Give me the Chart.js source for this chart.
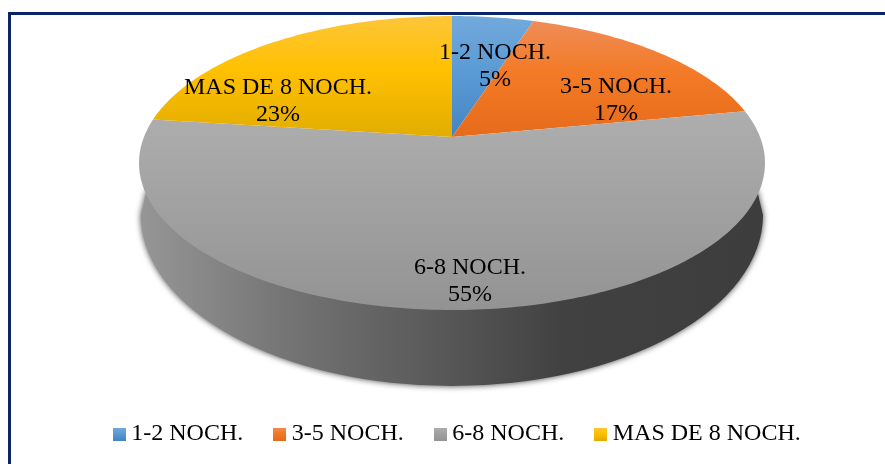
<!DOCTYPE html>
<html>
<head>
<meta charset="utf-8">
<style>
html,body{margin:0;padding:0;background:#fff;width:885px;height:464px;overflow:hidden}
#frame{position:absolute;left:8px;top:12px;right:-10px;bottom:-10px;border-left:3px solid #0a2566;border-top:3px solid #0a2566}
#wrap{position:absolute;left:0;top:0;width:885px;height:464px}
</style>
<script src="https://cdn.jsdelivr.net/npm/chart.js@4"></script>
</head>
<body>
<div id="frame"></div>
<div id="wrap"><canvas id="c" width="885" height="464"></canvas></div>
<script>
const categories = ['1-2 NOCH.', '3-5 NOCH.', '6-8 NOCH.', 'MAS DE 8 NOCH.'];
const values = [5, 17, 55, 23];
const faceStops = [
  ['#72a9dc', '#5b9bd5', '#4484c4'],
  ['#ef8d58', '#f37a26', '#e66b1b'],
  ['#aeaeae', '#a2a2a2', '#939393'],
  ['#fdc63a', '#ffc000', '#e2ad00']
];
const labelAnchors = [[495, 53], [616, 87], [470, 268], [278, 88]];

const TOP = {cx: 452, cy: 163, rx: 313, ry: 147};
const BASE = {cx: 452, cy: 215, rx: 311, ry: 171, startY: 190, inset: 6};
const TILT = 0.177;
const FONT = '"Liberation Serif","Times New Roman",serif';
const FONT_PX = 24;

function project(e, a) {
  const t = a + Math.PI / 2, x = Math.sin(t), y = Math.cos(t);
  const d = 1 + TILT * y;
  return [e.cx + e.rx * x * Math.sqrt(1 - TILT * TILT) / d, e.cy - e.ry * (y + TILT) / d];
}
function apex() { return [TOP.cx, TOP.cy - TOP.ry * TILT]; }
function samples(e, a0, a1) {
  const n = Math.max(2, Math.ceil((a1 - a0) * 60)), out = [];
  for (let i = 0; i <= n; i++) out.push(project(e, a0 + (a1 - a0) * i / n));
  return out;
}
function faceGradient(ctx, i, pts) {
  const ys = pts.map(p => p[1]);
  const g = ctx.createLinearGradient(0, Math.min(...ys), 0, Math.max(...ys));
  const s = faceStops[i];
  g.addColorStop(0, s[0]); g.addColorStop(0.45, s[1]); g.addColorStop(1, s[2]);
  return g;
}

Chart.ArcElement.prototype.draw = function (ctx) {
  const i = this.$context ? this.$context.index : 0;
  const pts = [apex(), ...samples(TOP, this.startAngle, this.endAngle)];
  ctx.save();
  ctx.beginPath();
  pts.forEach((p, k) => k ? ctx.lineTo(p[0], p[1]) : ctx.moveTo(p[0], p[1]));
  ctx.closePath();
  ctx.fillStyle = faceGradient(ctx, i, pts);
  ctx.fill();
  ctx.restore();
};

const wallPlugin = {
  id: 'wall',
  beforeDatasetsDraw(chart) {
    const ctx = chart.ctx;
    ctx.save();
    ctx.beginPath();
    ctx.moveTo(BASE.cx + BASE.rx - BASE.inset, BASE.startY);
    ctx.lineTo(BASE.cx + BASE.rx, BASE.cy);
    ctx.ellipse(BASE.cx, BASE.cy, BASE.rx, BASE.ry, 0, 0, Math.PI);
    ctx.lineTo(BASE.cx - BASE.rx + BASE.inset, BASE.startY);
    ctx.closePath();
    const g = ctx.createLinearGradient(BASE.cx - BASE.rx, 0, BASE.cx + BASE.rx, 0);
    g.addColorStop(0, '#969696');
    g.addColorStop(0.25, '#727272');
    g.addColorStop(0.5, '#565656');
    g.addColorStop(0.68, '#414141');
    g.addColorStop(1, '#3d3d3d');
    ctx.shadowColor = 'rgba(0,0,0,0.75)';
    ctx.shadowBlur = 6;
    ctx.fillStyle = g;
    ctx.fill();
    ctx.restore();
  }
};

const textPlugin = {
  id: 'sliceText',
  afterDatasetsDraw(chart) {
    const ctx = chart.ctx;
    ctx.save();
    ctx.font = FONT_PX + 'px ' + FONT;
    ctx.fillStyle = '#000';
    ctx.textAlign = 'center';
    ctx.textBaseline = 'middle';
    categories.forEach((c, i) => {
      const [x, y] = labelAnchors[i];
      ctx.fillText(c, x, y);
      ctx.fillText(values[i] + '%', x, y + 27);
    });
    ctx.restore();
  }
};

function swatch(i) {
  const s = document.createElement('canvas');
  s.width = 13; s.height = 13;
  const x = s.getContext('2d');
  const g = x.createLinearGradient(0, 0, 0, 13);
  g.addColorStop(0, faceStops[i][0]); g.addColorStop(0.45, faceStops[i][1]); g.addColorStop(1, faceStops[i][2]);
  x.fillStyle = g;
  x.fillRect(0, 0, 13, 13);
  return s;
}

new Chart(document.getElementById('c'), {
  type: 'pie',
  data: {
    labels: categories,
    datasets: [{data: values, backgroundColor: faceStops.map(s => s[1]), borderWidth: 0}]
  },
  plugins: [wallPlugin, textPlugin],
  options: {
    responsive: false,
    animation: false,
    layout: {padding: {left: 35, bottom: 8}},
    plugins: {
      tooltip: {enabled: false},
      legend: {
        display: true,
        position: 'bottom',
        labels: {
          color: '#000',
          font: {family: FONT, size: FONT_PX},
          usePointStyle: true,
          boxWidth: 0.01,
          padding: 36.5,
          generateLabels(chart) {
            return categories.map((c, i) => ({text: c, pointStyle: swatch(i), index: i, fontColor: '#000', hidden: false}));
          }
        }
      }
    }
  }
});
</script>
</body>
</html>
